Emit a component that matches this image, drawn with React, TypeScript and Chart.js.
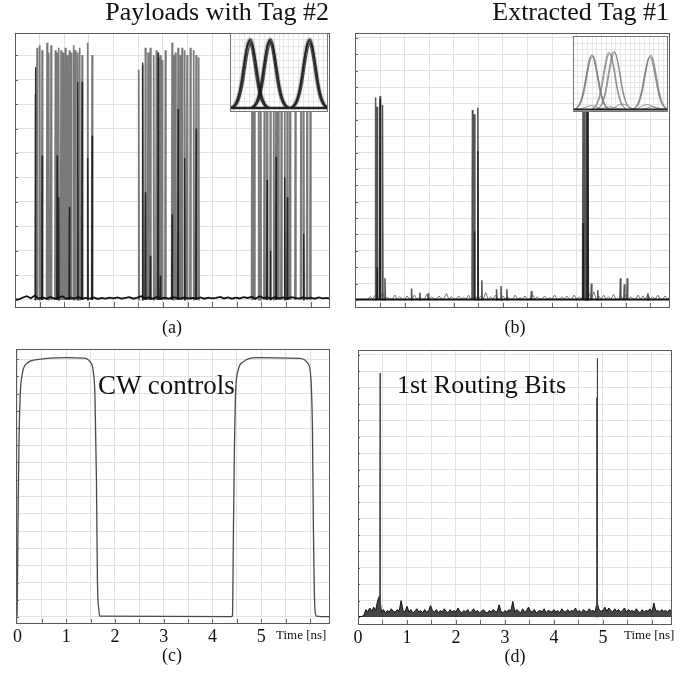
import React, { useEffect, useRef } from "react";
import { Chart, registerables } from "chart.js";

Chart.register(...registerables);

const FONT = "'Liberation Serif', 'Times New Roman', Times, serif";

// ---------------- axes ----------------
const X_GRID = [0, 0.5, 1, 1.5, 2, 2.5, 3, 3.5, 4, 4.5, 5, 5.5, 6];
const X_LABELS = ["0", "1", "2", "3", "4", "5"];
const Y_GRID_A = [0, 1, 2, 3, 4, 5, 6, 7, 8, 9, 10];
const Y_GRID_B = [0, 1, 2, 3, 4, 5, 6, 7, 8, 9, 10, 11, 12, 13, 14, 15, 16];
const Y_GRID_C = [0, 1, 2, 3, 4, 5, 6, 7, 8, 9, 10, 11, 12, 13, 14, 15];
const Y_GRID_D = [0, 1, 2, 3, 4, 5, 6, 7, 8, 9, 10, 11, 12, 13, 14, 15, 16];

// ---------------- panel (a): payloads with tag #2 ----------------
const A_SPIKE_T = [
  0.414, 0.448, 0.501, 0.55, 0.651, 0.684, 0.732, 0.819, 0.854, 0.886, 0.935, 0.976, 1.022, 1.057, 1.103, 1.138, 1.191, 1.225, 1.272, 1.312, 1.361, 1.475, 1.564,
  2.509, 2.59, 2.645, 2.7, 2.746, 2.813, 2.868, 2.903, 2.949, 2.984, 3.051, 3.187, 3.219, 3.254, 3.308, 3.355, 3.389, 3.442, 3.491, 3.558, 3.625, 3.675, 3.726,
  4.809, 4.856, 4.943, 4.984, 5.059, 5.114, 5.181, 5.248, 5.296, 5.343, 5.404, 5.471, 5.525, 5.58, 5.688, 5.803, 5.856, 5.925, 5.992,
];
const A_SPIKE_H = [
  8.4, 10.3, 10.4, 10.2, 10.5, 10.1, 10.4, 10.2, 10.1, 10.3, 10.2, 10.1, 10.3, 10.0, 10.2, 10.1, 10.4, 10.2, 10.1, 10.3, 10.0, 10.5, 10.0,
  9.4, 9.6, 10.3, 10.1, 10.3, 10.0, 10.2, 9.9, 10.0, 9.8, 10.2, 10.5, 10.0, 10.1, 10.3, 10.0, 10.3, 10.2, 10.0, 10.3, 10.2, 10.0, 9.9,
  10.2, 10.3, 10.1, 10.2, 10.3, 10.1, 10.2, 10.3, 10.2, 10.1, 10.3, 10.2, 10.1, 10.2, 10.3, 10.1, 10.2, 10.2, 10.1,
];
const A_DARK_T = [
  0.414, 0.55, 0.854, 0.886, 1.103, 1.272, 1.361, 1.475, 1.564,
  2.59, 2.645, 2.746, 2.903, 2.949, 3.187, 3.308, 3.442, 3.675,
  5.114, 5.181, 5.296, 5.471, 5.525, 5.856,
];
const A_DARK_H = [
  9.5, 5.9, 5.9, 4.2, 3.8, 8.9, 8.9, 5.8, 6.7,
  9.7, 4.4, 1.8, 10.1, 1.0, 3.5, 7.8, 5.8, 7.0,
  4.9, 2.0, 5.85, 5.0, 4.2, 2.7,
];
const A_NOISE_DT = 0.08;
const A_NOISE = [
  0.02, 0.02, 0.1, 0.15, 0.07, 0.18, 0.05, 0.1, 0.05, 0.12,
  0.05, 0.08, 0.15, 0.05, 0.1, 0.05, 0.12, 0.05, 0.08, 0.05,
  0.1, 0.04, 0.08, 0.05, 0.09, 0.06, 0.1, 0.05, 0.08, 0.11,
  0.05, 0.09, 0.15, 0.06, 0.1, 0.05, 0.12, 0.06, 0.09, 0.05,
  0.11, 0.08, 0.05, 0.1, 0.06, 0.08, 0.05, 0.1, 0.05, 0.09,
  0.06, 0.08, 0.12, 0.06, 0.1, 0.05, 0.09, 0.06, 0.11, 0.08,
  0.12, 0.05, 0.15, 0.08, 0.1, 0.05, 0.12, 0.06, 0.1, 0.05,
  0.11, 0.08, 0.05, 0.1, 0.06, 0.09, 0.05, 0.1, 0.06, 0.08,
  0.05,
];

// ---------------- panel (b): extracted tag #1 ----------------
const B_SPIKE_T = [
  0.41, 0.44, 0.5, 0.55, 0.6, 1.14, 1.31, 1.48,
  2.38, 2.42, 2.49, 2.57, 2.87, 2.96, 3.08, 3.58,
  4.63, 4.67, 4.71, 4.73, 4.8, 4.93, 5.39, 5.47, 5.53, 5.95,
];
const B_SPIKE_H = [
  12.36, 11.8, 12.46, 11.9, 1.32, 0.7, 0.45, 0.4,
  11.6, 11.34, 11.73, 1.2, 0.65, 0.85, 0.65, 0.55,
  12.6, 12.3, 12.5, 12.2, 1.0, 0.6, 1.32, 0.96, 1.32, 0.4,
];
const B_DARK_T = [0.44, 0.5, 2.42, 2.49, 4.63, 4.71, 4.73];
const B_DARK_H = [2.0, 12.3, 4.2, 9.1, 4.7, 12.4, 12.1];
const B_NOISE_DT = 0.05;
const B_NOISE = [
  0.03, 0.03, 0.03, 0.03, 0.03, 0.04, 0.2, 0.05, 0.3, 0.05,
  0.05, 0.5, 0.05, 0.15, 0.05, 0.05, 0.3, 0.05, 0.2, 0.05,
  0.05, 0.25, 0.05, 0.05, 0.3, 0.05, 0.15, 0.05, 0.05, 0.35,
  0.05, 0.2, 0.05, 0.05, 0.25, 0.05, 0.1, 0.4, 0.05, 0.2,
  0.05, 0.05, 0.25, 0.05, 0.15, 0.05, 0.3, 0.05, 0.05, 0.2,
  0.05, 0.25, 0.05, 0.45, 0.05, 0.2, 0.05, 0.3, 0.05, 0.05,
  0.25, 0.05, 0.2, 0.05, 0.05, 0.3, 0.05, 0.15, 0.05, 0.25,
  0.05, 0.05, 0.35, 0.05, 0.2, 0.05, 0.05, 0.25, 0.05, 0.15,
  0.05, 0.3, 0.05, 0.05, 0.2, 0.05, 0.25, 0.05, 0.05, 0.3,
  0.05, 0.2, 0.05, 0.35, 0.05, 0.4, 0.05, 0.5, 0.05, 0.25,
  0.05, 0.3, 0.05, 0.2, 0.05, 0.35, 0.05, 0.05, 0.25, 0.05,
  0.3, 0.05, 0.2, 0.05, 0.05, 0.3, 0.05, 0.25, 0.05, 0.35,
  0.05, 0.2, 0.05, 0.3, 0.05, 0.05, 0.25, 0.05, 0.2,
];

// ---------------- panel (c): CW controls ----------------
const C_T = [-0.03, -0.01, 0.01, 0.03, 0.055, 0.1, 0.19, 0.4, 1.01, 1.35, 1.49, 1.56, 1.59, 1.62, 1.64, 1.67, 1.69, 4.39, 4.41, 4.43, 4.45, 4.47, 4.53, 4.63, 4.9, 5.79, 5.96, 6.02, 6.05, 6.07, 6.09, 6.13, 6.41];
const C_V = [0.02, 0.05, 5.06, 9.9, 12.8, 14.17, 14.75, 14.98, 15.1, 15.07, 14.85, 14.17, 12.8, 7.96, 2.15, 0.4, 0.05, 0.02, 0.1, 5.06, 9.9, 12.8, 14.4, 14.85, 15.1, 15.05, 14.75, 13.8, 10.9, 5.06, 1.2, 0.05, 0.02];

// ---------------- panel (d): 1st routing bits ----------------
const D_SPIKE_T = [0.45, 4.87, 4.885];
const D_SPIKE_H = [14.9, 13.4, 15.8];
const D_NOISE_DT = 0.04;
const D_NOISE = [
  0.03, 0.03, 0.03, 0.1, 0.45, 0.3, 0.55, 0.35, 0.6, 0.4,
  1.0, 1.3, 0.3, 0.45, 0.25, 0.4, 0.3, 0.5, 0.35, 0.3,
  0.45, 0.35, 1.0, 0.4, 0.3, 0.65, 0.3, 0.45, 0.25, 0.35,
  0.5, 0.3, 0.4, 0.25, 0.45, 0.3, 0.35, 0.7, 0.4, 0.3,
  0.45, 0.25, 0.4, 0.3, 0.5, 0.35, 0.25, 0.45, 0.3, 0.4,
  0.3, 0.55, 0.35, 0.25, 0.4, 0.3, 0.45, 0.25, 0.35, 0.5,
  0.3, 0.4, 0.25, 0.35, 0.45, 0.3, 0.25, 0.4, 0.3, 0.45,
  0.35, 0.3, 0.75, 0.35, 0.25, 0.4, 0.3, 0.45, 0.35, 0.95,
  0.3, 0.45, 0.35, 0.25, 0.5, 0.3, 0.4, 0.6, 0.35, 0.3,
  0.45, 0.25, 0.35, 0.4, 0.3, 0.5, 0.25, 0.4, 0.35, 0.3,
  0.45, 0.3, 0.4, 0.25, 0.5, 0.35, 0.3, 0.45, 0.3, 0.4,
  0.35, 0.55, 0.3, 0.4, 0.25, 0.45, 0.35, 0.3, 0.5, 0.35,
  0.4, 0.3, 0.9, 0.45, 0.35, 0.4, 0.6, 0.35, 0.55, 0.4,
  0.3, 0.5, 0.35, 0.45, 0.3, 0.4, 0.55, 0.3, 0.45, 0.35,
  0.4, 0.3, 0.5, 0.35, 0.25, 0.45, 0.3, 0.4, 0.35, 0.5,
  0.3, 0.85, 0.35, 0.4, 0.3, 0.45, 0.35, 0.4, 0.3, 0.45,
  0.35,
];

// ---------------- insets (eye diagrams) ----------------
const PULSE_DX = [-19, -16, -14, -12, -10, -8, -6, -4, -2, 0, 2, 4, 6, 8, 10, 12, 14, 16, 19];
const PULSE_Y = [0, 0.03, 0.07, 0.14, 0.25, 0.41, 0.61, 0.8, 0.95, 1, 0.95, 0.8, 0.61, 0.41, 0.25, 0.14, 0.07, 0.03, 0];
const INSET_A_CENTERS = [19.2, 19.9, 20.4, 21.0, 21.7, 39.8, 40.4, 40.9, 41.5, 42.1, 80.0, 80.6, 81.0, 81.6, 82.2];
const INSET_A_AMPS = [0.96, 1.0, 0.98, 1.01, 0.95, 0.97, 1.0, 0.99, 1.01, 0.96, 0.96, 1.0, 0.98, 1.01, 0.95];
const INSET_A_HALO = [20.4, 40.9, 81.0];
const INSET_B_CENTERS = [20.1, 20.6, 19.5, 37.8, 38.6, 43.1, 43.8, 81.3, 80.7, 81.9];
const INSET_B_AMPS = [1.0, 0.97, 0.98, 1.04, 1.02, 1.06, 1.03, 0.97, 0.95, 0.99];
const INSET_B_LOW_CENTERS = [19, 39, 52, 78, 84];
const INSET_B_LOW_AMPS = [0.07, 0.05, 0.1, 0.09, 0.05];

// ---------------- helpers ----------------
type Pt = { x: number; y: number | null };

function spikes(ts: number[], hs: number[], w: number): Pt[] {
  const pts: Pt[] = [];
  ts.forEach((t, i) => {
    pts.push({ x: t - w, y: 0 }, { x: t, y: hs[i] }, { x: t + w, y: 0 }, { x: t + w * 1.05, y: null });
  });
  return pts;
}
function series(values: number[], dt: number): Pt[] {
  return values.map((v, i) => ({ x: i * dt, y: v }));
}
function xy(xs: number[], ys: number[]): Pt[] {
  return xs.map((x, i) => ({ x, y: ys[i] }));
}
function pulse(center: number, amp: number): Pt[] {
  return PULSE_DX.map((dx, i) => ({ x: center + dx, y: PULSE_Y[i] * amp }));
}

const framePlugin = {
  id: "frame",
  beforeDraw(chart: any, _a: any, opts: any) {
    if (opts && opts.bg) {
      const ctx = chart.ctx;
      ctx.save();
      ctx.fillStyle = opts.bg;
      ctx.fillRect(0, 0, chart.width, chart.height);
      ctx.restore();
    }
  },
  afterDraw(chart: any, _a: any, opts: any) {
    const { ctx, chartArea: a, scales } = chart;
    ctx.save();
    ctx.lineWidth = 1;
    ctx.strokeStyle = opts.tickColor || opts.color;
    ctx.beginPath();
    if (opts.tickB) {
      scales.x.ticks.forEach((t: any) => {
        const px = Math.round(scales.x.getPixelForValue(t.value)) + 0.5;
        if (px <= a.left + 2 || px >= a.right - 2) return;
        ctx.moveTo(px, a.bottom);
        ctx.lineTo(px, a.bottom - opts.tickB);
      });
    }
    if (opts.tickL) {
      scales.y.ticks.forEach((t: any) => {
        const py = Math.round(scales.y.getPixelForValue(t.value)) + 0.5;
        if (py <= a.top + 2 || py >= a.bottom - 2) return;
        ctx.moveTo(a.left, py);
        ctx.lineTo(a.left + opts.tickL, py);
      });
    }
    ctx.stroke();
    ctx.strokeStyle = opts.color;
    ctx.lineWidth = opts.width || 1;
    ctx.strokeRect(Math.round(a.left) + 0.5, Math.round(a.top) + 0.5, Math.round(a.right - a.left) - 1, Math.round(a.bottom - a.top) - 1);
    ctx.restore();
  },
};

const GRID_COLOR = "#e2e2e2";
const PAD = 10;

function mainConfig(p: any) {
  return {
    type: "line",
    data: { datasets: p.datasets },
    options: {
      animation: false,
      responsive: false,
      events: [],
      layout: { autoPadding: false, padding: { left: PAD, right: PAD, top: PAD, bottom: PAD } },
      plugins: {
        legend: { display: false },
        tooltip: { enabled: false },
        frame: { color: "#5a5a5a", tickColor: "#666", tickB: p.tickB, tickL: p.tickL },
      },
      elements: { point: { radius: 0 }, line: { tension: 0 } },
      scales: {
        x: {
          type: "linear",
          min: p.xMin,
          max: p.xMax,
          afterBuildTicks: (s: any) => {
            s.ticks = X_GRID.map((v) => ({ value: v }));
          },
          afterFit: (s: any) => {
            s.height = p.axisH;
          },
          grid: { color: GRID_COLOR, drawTicks: false, lineWidth: 1 },
          border: { display: false },
          ticks: {
            display: p.labels,
            autoSkip: false,
            maxRotation: 0,
            padding: 2,
            color: "#111",
            font: { family: FONT, size: 18 },
            callback: (v: number) => (Number.isInteger(v) && v < X_LABELS.length ? X_LABELS[v] : ""),
          },
        },
        y: {
          type: "linear",
          min: p.yMin,
          max: p.yMax,
          afterBuildTicks: (s: any) => {
            s.ticks = p.yGrid.map((v: number) => ({ value: v }));
          },
          afterFit: (s: any) => {
            s.width = 0;
          },
          grid: { color: GRID_COLOR, drawTicks: false, lineWidth: 1 },
          border: { display: false },
          ticks: { display: false },
        },
      },
    },
    plugins: [framePlugin],
  };
}

function insetConfig(datasets: any[], yMin: number, yMax: number) {
  return {
    type: "line",
    data: { datasets },
    options: {
      animation: false,
      responsive: false,
      events: [],
      layout: { autoPadding: false, padding: 0 },
      plugins: {
        legend: { display: false },
        tooltip: { enabled: false },
        frame: { color: "#777", bg: "#ffffff" },
      },
      elements: { point: { radius: 0 }, line: { tension: 0, cubicInterpolationMode: "monotone" } },
      scales: {
        x: {
          type: "linear",
          min: 0,
          max: 100,
          afterFit: (s: any) => {
            s.height = 0;
          },
          grid: { color: "#e8e8e8", drawTicks: false, lineWidth: 1 },
          border: { display: false },
          ticks: { display: false, stepSize: 5 },
        },
        y: {
          type: "linear",
          min: yMin,
          max: yMax,
          afterFit: (s: any) => {
            s.width = 0;
          },
          grid: { color: "#e8e8e8", drawTicks: false, lineWidth: 1 },
          border: { display: false },
          ticks: { display: false, stepSize: 0.1 },
        },
      },
    },
    plugins: [framePlugin],
  };
}

const line = (data: Pt[], color: string, width: number, extra: any = {}) => ({
  data,
  borderColor: color,
  borderWidth: width,
  pointRadius: 0,
  fill: false,
  spanGaps: false,
  ...extra,
});

// canvas placements: [left, top, width, height]
const CANVAS = {
  a: [15 - PAD, 33 - PAD, 315 + 2 * PAD, 275 + 2 * PAD],
  b: [355 - PAD, 33 - PAD, 315 + 2 * PAD, 275 + 2 * PAD],
  c: [16 - PAD, 349 - PAD, 314 + 2 * PAD, 275 + 26 + 2 * PAD],
  d: [358 - PAD, 350 - PAD, 314 + 2 * PAD, 275 + 26 + 2 * PAD],
  ia: [230, 33, 98, 79],
  ib: [573, 36, 95, 76],
};

export default function App() {
  const refs = useRef<Record<string, HTMLCanvasElement | null>>({});

  useEffect(() => {
    document.body.style.margin = "0";
    const charts: Chart[] = [];
    const mk = (key: string, cfg: any) => {
      const el = refs.current[key];
      if (el) charts.push(new Chart(el, cfg));
    };

    mk(
      "a",
      mainConfig({
        xMin: 0, xMax: 6.39, yMin: -0.33, yMax: 10.9, yGrid: Y_GRID_A, axisH: 0, labels: false, tickB: 6, tickL: 3,
        datasets: [
          line(series(A_NOISE, A_NOISE_DT), "#111", 1.8),
          line(spikes(A_DARK_T, A_DARK_H, 0.008), "#262626", 1.3),
          line(spikes(A_SPIKE_T, A_SPIKE_H, 0.01), "#7a7a7a", 1.7),
        ],
      })
    );
    mk(
      "b",
      mainConfig({
        xMin: -0.01, xMax: 6.4, yMin: -0.49, yMax: 16.3, yGrid: Y_GRID_B, axisH: 0, labels: false, tickB: 5, tickL: 3,
        datasets: [
          line([{ x: 0, y: 0.03 }, { x: 6.4, y: 0.03 }], "#111", 1.8),
          line(spikes(B_DARK_T, B_DARK_H, 0.008), "#222", 1.3),
          line(spikes(B_SPIKE_T, B_SPIKE_H, 0.01), "#555", 1.5),
          line(series(B_NOISE, B_NOISE_DT), "#777", 1),
        ],
      })
    );
    mk(
      "c",
      mainConfig({
        xMin: -0.03, xMax: 6.41, yMin: -0.41, yMax: 15.6, yGrid: Y_GRID_C, axisH: 26, labels: true, tickB: 5, tickL: 3,
        datasets: [line(xy(C_T, C_V), "#4a4a4a", 1.3, { cubicInterpolationMode: "monotone" })],
      })
    );
    mk(
      "d",
      mainConfig({
        xMin: 0, xMax: 6.41, yMin: -0.49, yMax: 16.3, yGrid: Y_GRID_D, axisH: 26, labels: true, tickB: 5, tickL: 2,
        datasets: [
          line(spikes(D_SPIKE_T, D_SPIKE_H, 0.006), "#444", 1.2),
          line(series(D_NOISE, D_NOISE_DT), "#111", 1, { fill: "origin", backgroundColor: "rgba(25,25,25,0.8)" }),
        ],
      })
    );

    const insetA: any[] = [line([{ x: 0, y: 0 }, { x: 100, y: 0 }], "#222", 2.5)];
    INSET_A_CENTERS.forEach((c, i) => insetA.push(line(pulse(c, INSET_A_AMPS[i]), "rgba(25,25,25,0.75)", 1.1)));
    INSET_A_HALO.forEach((c) => insetA.push(line(pulse(c, 1), "rgba(110,110,110,0.35)", 5)));
    mk("ia", insetConfig(insetA, -0.06, 1.1));

    const insetB: any[] = [line([{ x: 0, y: 0 }, { x: 100, y: 0 }], "#222", 2)];
    INSET_B_CENTERS.forEach((c, i) => insetB.push(line(pulse(c, INSET_B_AMPS[i]), "rgba(120,120,120,0.9)", 0.9)));
    INSET_B_LOW_CENTERS.forEach((c, i) => insetB.push(line(pulse(c, INSET_B_LOW_AMPS[i]), "rgba(120,120,120,0.9)", 0.9)));
    mk("ib", insetConfig(insetB, -0.044, 1.34));

    return () => charts.forEach((c) => c.destroy());
  }, []);

  const canvas = (key: string) => {
    const [l, t, w, h] = (CANVAS as any)[key];
    return (
      <canvas
        key={key}
        ref={(el) => {
          refs.current[key] = el;
        }}
        width={w}
        height={h}
        style={{ position: "absolute", left: l, top: t, width: w, height: h }}
      />
    );
  };

  const txt = (s: string, style: React.CSSProperties) => (
    <div style={{ position: "absolute", whiteSpace: "nowrap", lineHeight: 1, color: "#111", fontFamily: FONT, ...style }}>{s}</div>
  );

  return (
    <div style={{ position: "absolute", left: 0, top: 0, width: 690, height: 674, background: "#fff", overflow: "hidden" }}>
      {canvas("a")}
      {canvas("b")}
      {canvas("c")}
      {canvas("d")}
      {canvas("ia")}
      {canvas("ib")}
      {txt("Payloads with Tag #2", { right: 690 - 329, top: -1, fontSize: 26, textAlign: "right" })}
      {txt("Extracted Tag #1", { right: 690 - 669, top: -1, fontSize: 26, textAlign: "right" })}
      {txt("(a)", { left: 172, top: 318, fontSize: 18, transform: "translateX(-50%)" })}
      {txt("(b)", { left: 515, top: 318, fontSize: 18, transform: "translateX(-50%)" })}
      {txt("(c)", { left: 172, top: 646, fontSize: 18, transform: "translateX(-50%)" })}
      {txt("(d)", { left: 515, top: 647, fontSize: 18, transform: "translateX(-50%)" })}
      {txt("CW controls", { left: 98, top: 372, fontSize: 27 })}
      {txt("1st Routing Bits", { left: 397, top: 372, fontSize: 26 })}
      {txt("Time [ns]", { left: 276, top: 628, fontSize: 13 })}
      {txt("Time [ns]", { left: 624, top: 628, fontSize: 13 })}
    </div>
  );
}
